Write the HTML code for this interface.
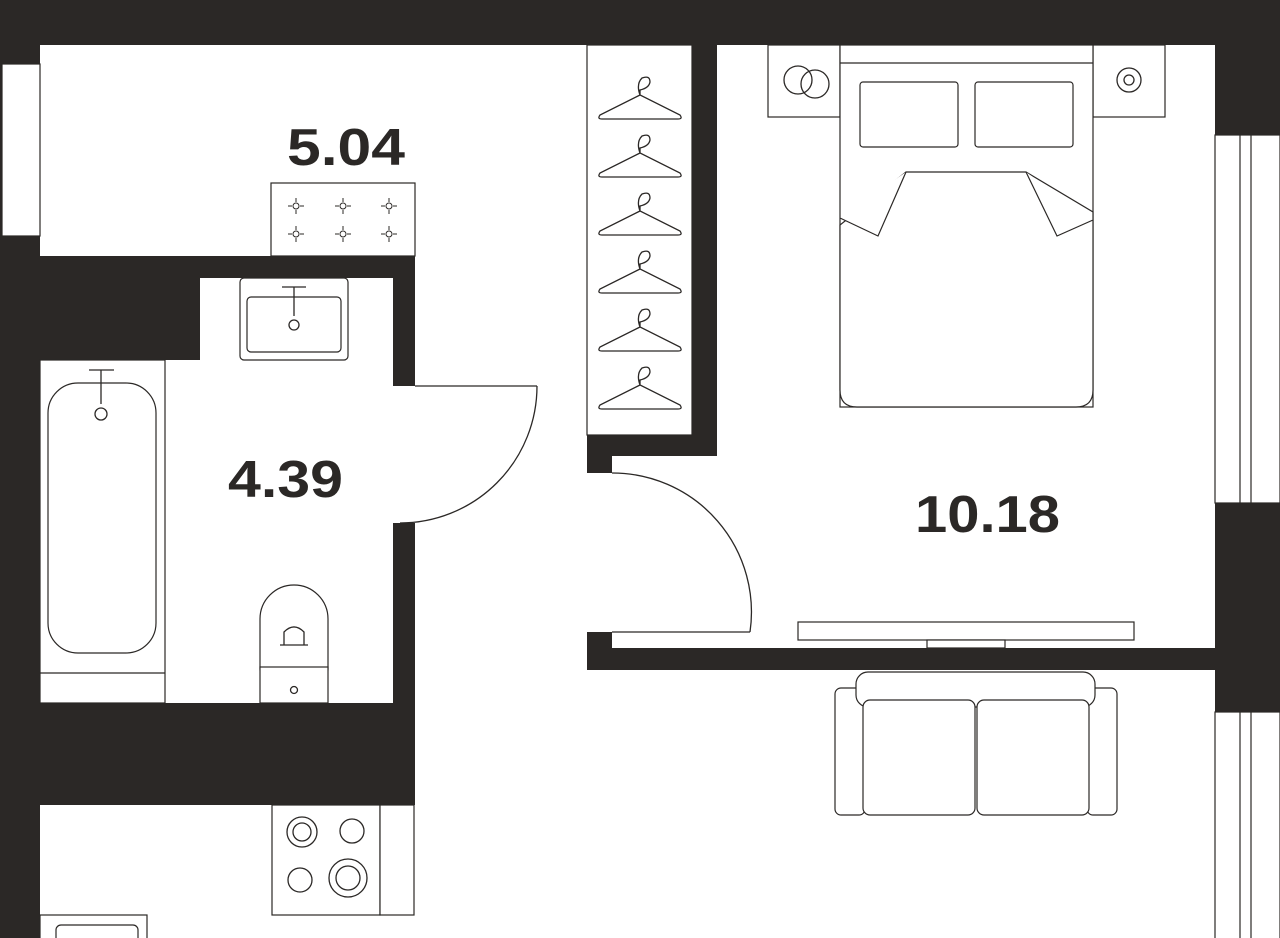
<!DOCTYPE html>
<html><head><meta charset="utf-8"><style>
html,body{margin:0;padding:0;background:#fff}
svg{display:block}
text{font-family:"Liberation Sans",sans-serif;font-weight:bold;fill:#2b2826}
</style></head><body>
<svg width="1280" height="938" viewBox="0 0 1280 938" xmlns="http://www.w3.org/2000/svg">
<g fill="#2b2826">
<rect x="0" y="0" width="1280" height="45"/>
<rect x="0" y="0" width="40" height="938"/>
<rect x="1215" y="0" width="65" height="135"/>
<rect x="1215" y="503" width="65" height="209"/>
<rect x="0" y="256" width="415" height="22"/>
<rect x="0" y="278" width="200" height="82"/>
<rect x="393" y="256" width="22" height="130"/>
<rect x="393" y="523" width="22" height="180"/>
<rect x="0" y="703" width="415" height="102"/>
<rect x="692" y="45" width="25" height="411"/>
<rect x="587" y="435" width="130" height="21"/>
<rect x="587" y="456" width="25" height="17"/>
<rect x="587" y="632" width="25" height="38"/>
<rect x="587" y="648" width="628" height="22"/>
</g>
<g fill="#fff" stroke="#2b2826" stroke-width="1.2">
<rect x="2" y="64" width="38" height="172"/>
<rect x="1215" y="135" width="65" height="368"/>
<line x1="1240" y1="135" x2="1240" y2="503"/><line x1="1251" y1="135" x2="1251" y2="503"/>
<rect x="1215" y="712" width="65" height="240"/>
<line x1="1240" y1="712" x2="1240" y2="938"/><line x1="1251" y1="712" x2="1251" y2="938"/>
<rect x="587" y="45" width="105" height="390"/>
<rect x="271" y="183" width="144" height="73"/>
<rect x="40" y="360" width="125" height="343"/>
<line x1="40" y1="673" x2="165" y2="673"/>
<rect x="48" y="383" width="108" height="270" rx="30"/>
<rect x="240" y="278" width="108" height="82" rx="4"/>
<rect x="247" y="297" width="94" height="55" rx="4"/>
<rect x="260" y="585" width="68" height="118" rx="34"/>
<rect x="260" y="667" width="68" height="36"/>
<rect x="272" y="805" width="108" height="110"/>
<rect x="380" y="805" width="34" height="110"/>
<rect x="40" y="915" width="107" height="30"/>
<rect x="56" y="925" width="82" height="30" rx="5"/>
<rect x="768" y="45" width="72" height="72"/>
<rect x="1093" y="45" width="72" height="72"/>
<rect x="840" y="45" width="253" height="362"/>
<line x1="840" y1="63" x2="1093" y2="63"/>
<rect x="860" y="82" width="98" height="65" rx="3"/>
<rect x="975" y="82" width="98" height="65" rx="3"/>
<path d="M840 390 L840 225 L906 172 L1026 172 L1093 212 L1093 390 Q1093 407 1076 407 L857 407 Q840 407 840 390Z"/>
<path d="M906 172 L878 236 L840 218 M1026 172 L1057 236 L1093 220"/>
<rect x="798" y="622" width="336" height="18"/>
<rect x="927" y="640" width="78" height="8"/>
<rect x="835" y="688" width="30" height="127" rx="6"/>
<rect x="1087" y="688" width="30" height="127" rx="6"/>
<rect x="856" y="672" width="239" height="35" rx="12"/>
<rect x="863" y="700" width="112" height="115" rx="7"/>
<rect x="977" y="700" width="112" height="115" rx="7"/>
</g>
<g fill="none" stroke="#2b2826" stroke-width="1.3">
<line x1="415" y1="386" x2="537" y2="386"/>
<path d="M537 386 A137 137 0 0 1 400 523"/>
<line x1="612" y1="632" x2="750" y2="632"/>
<path d="M750 632 A139 139 0 0 0 612 473"/>
<g id="h"><path d="M640 95 Q636 84 642 78 Q650 75 650 82 Q649 88 640 90 L640 95 L680 115 Q683 119 678 119 L602 119 Q597 119 600 115 Z"/></g>
<use href="#h" y="58"/><use href="#h" y="116"/><use href="#h" y="174"/><use href="#h" y="232"/><use href="#h" y="290"/>
<circle cx="101" cy="414" r="6"/>
<path d="M101 370 V404 M89 370 H114"/>
<circle cx="294" cy="325" r="5"/>
<path d="M294 287 V316 M282 287 H306"/>
<path d="M284 645 V632 Q294 622 304 632 V645 M280 645 H308"/>
<circle cx="294" cy="690" r="3.5"/>
<circle cx="302" cy="832" r="15"/><circle cx="302" cy="832" r="9"/>
<circle cx="352" cy="831" r="12"/>
<circle cx="300" cy="880" r="12"/>
<circle cx="348" cy="878" r="19"/><circle cx="348" cy="878" r="12"/>
<circle cx="798" cy="80" r="14"/><circle cx="815" cy="84" r="14"/>
<circle cx="1129" cy="80" r="12"/><circle cx="1129" cy="80" r="5"/>
</g>
<g fill="none" stroke="#2b2826" stroke-width="1">
<g id="d"><circle cx="296" cy="206" r="3"/><path d="M296 198v4M296 210v4M288 206h4M300 206h4"/></g>
<use href="#d" x="47"/><use href="#d" x="93"/>
<use href="#d" y="28"/><use href="#d" x="47" y="28"/><use href="#d" x="93" y="28"/>
</g>
<text x="287" y="165" font-size="52" textLength="118" lengthAdjust="spacingAndGlyphs">5.04</text>
<text x="228" y="497" font-size="52" textLength="115" lengthAdjust="spacingAndGlyphs">4.39</text>
<text x="915" y="532" font-size="52" textLength="145" lengthAdjust="spacingAndGlyphs">10.18</text>
</svg>
</body></html>
